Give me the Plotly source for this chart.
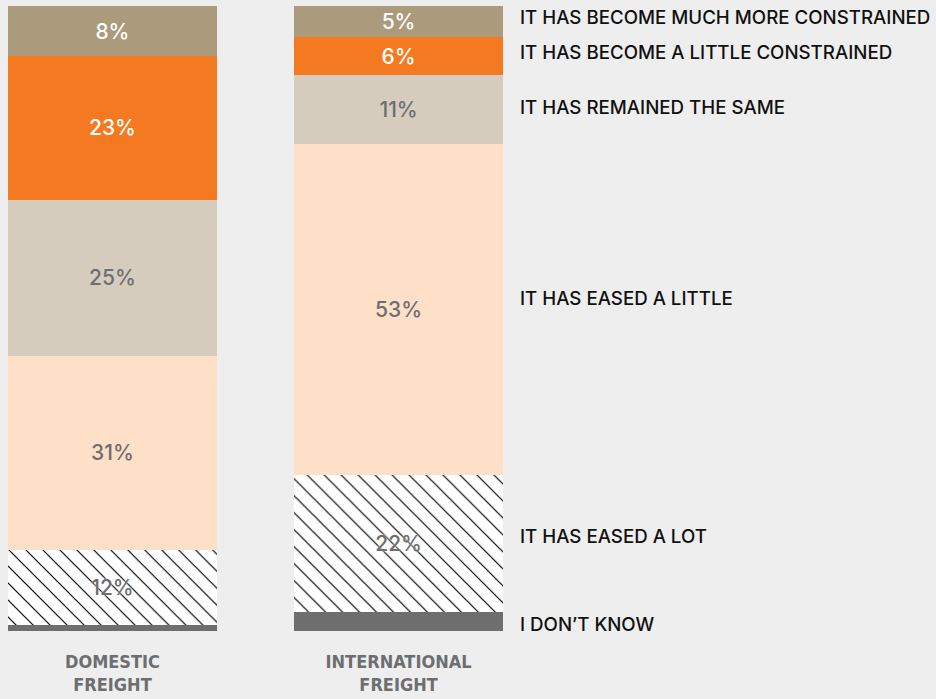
import plotly.graph_objects as go

# Survey: change in transport capacity, share of respondents (%)
categories = ["DOMESTIC<br>FREIGHT", "INTERNATIONAL<br>FREIGHT"]
responses = [
    "I DON’T KNOW",
    "IT HAS EASED A LOT",
    "IT HAS EASED A LITTLE",
    "IT HAS REMAINED THE SAME",
    "IT HAS BECOME A LITTLE CONSTRAINED",
    "IT HAS BECOME MUCH MORE CONSTRAINED",
]
dont_know = [1, 3]
eased_a_lot = [12, 22]
eased_a_little = [31, 53]
remained_same = [25, 11]
little_constrained = [23, 6]
much_more_constrained = [8, 5]

series = [dont_know, eased_a_lot, eased_a_little, remained_same,
          little_constrained, much_more_constrained]

fills = ["#6d6e6d", "#ffffff", "#fde0c7", "#d5ccbe", "#f47920", "#ac9a7c"]
text_colors = ["#6d6e70", "#6d6e70", "#6d6e70", "#6d6e70", "#ffffff", "#ffffff"]
show_text = [False, True, True, True, True, True]
label_shift = [-3, 7, 11, 2, 4, 4]

x_pos = [0, 1]
BAR_W = 0.73
BG = "#eeeeee"

fig = go.Figure()
for i, (name, vals) in enumerate(zip(responses, series)):
    marker = dict(color=fills[i], line=dict(width=0))
    tfont = dict(family="Inter, 'Noto Sans', sans-serif", size=21,
                 color=text_colors[i], weight=500)
    if i == 1:
        marker["pattern"] = dict(shape="\\", bgcolor="#ffffff", fgcolor="#000000",
                                 fgopacity=1, size=12, solidity=0.1,
                                 fillmode="replace")
        tfont["shadow"] = "0 0 3px #ffffff"
    fig.add_trace(go.Bar(
        x=x_pos, y=vals, name=name, width=BAR_W,
        marker=marker,
        text=[f"{v}%" for v in vals] if show_text[i] else None,
        textposition="inside" if show_text[i] else "none",
        insidetextanchor="middle", textangle=0, constraintext="none",
        textfont=tfont,
        hoverinfo="skip",
    ))

# Response labels to the right, aligned with the international bar segments
intl = [s[1] for s in series]
base = 0
for i, name in enumerate(responses):
    center = base + intl[i] / 2
    base += intl[i]
    fig.add_annotation(
        x=1.031, xref="paper", xanchor="left",
        y=center, yref="y", yanchor="middle", yshift=label_shift[i],
        text=name, showarrow=False,
        font=dict(family="Inter, 'Noto Sans', sans-serif", size=18.7,
                  color="#111111", weight=500),
    )

fig.update_layout(
    barmode="stack",
    width=936, height=699,
    margin=dict(l=8, r=433, t=6, b=68),
    paper_bgcolor=BG, plot_bgcolor=BG,
    showlegend=False,
    xaxis=dict(range=[-BAR_W / 2, 1 + BAR_W / 2], tickvals=x_pos,
               ticktext=categories, showgrid=False, zeroline=False,
               showline=False, ticks="", ticklabelstandoff=18,
               automargin=False,
               tickfont=dict(family="'Liberation Sans Narrow', 'DejaVu Sans Condensed', sans-serif",
                             size=18, color="#6d6e70", weight="bold")),
    yaxis=dict(range=[0, 100], visible=False, showgrid=False, zeroline=False,
               automargin=False),
)

fig.write_html("out.html")
